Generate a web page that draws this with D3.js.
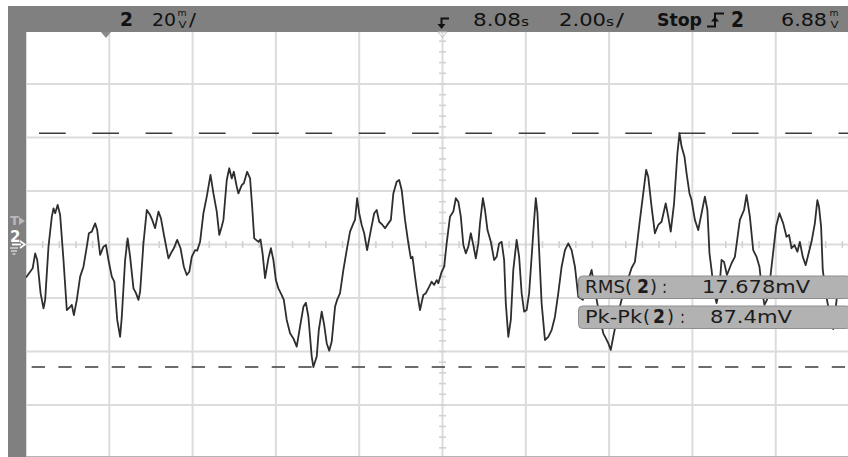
<!DOCTYPE html>
<html>
<head>
<meta charset="utf-8">
<script src="https://cdn.jsdelivr.net/npm/d3@7"></script>
<style>
  body { margin: 0; background: #fff; }
  svg { display: block; }
</style>
</head>
<body>
<svg id="scope" width="848" height="457"></svg>
<script>
// Channel 2 acquisition: time (s) and voltage (mV)
const timeS = [
  -1.92,-1.82,-1.76,-1.70,-1.65,-1.57,-1.50,-1.46,-1.38,-1.30,-1.26,-1.22,-1.16,-1.10,-1.02,-0.94,-0.86,-0.82,-0.77,-0.70,
  -0.62,-0.54,-0.46,-0.41,-0.34,-0.26,-0.21,-0.14,-0.06,0.00,0.06,0.14,0.20,0.27,0.34,0.38,0.46,0.52,0.58,0.66,
  0.72,0.78,0.82,0.90,0.98,1.06,1.11,1.18,1.26,1.32,1.40,1.50,1.58,1.63,1.71,1.79,1.87,1.94,2.00,2.06,
  2.14,2.19,2.26,2.34,2.42,2.51,2.58,2.66,2.72,2.78,2.82,2.90,2.96,3.02,3.07,3.14,3.18,3.26,3.31,3.39,
  3.46,3.51,3.56,3.66,3.71,3.76,3.82,3.90,3.96,4.02,4.08,4.14,4.22,4.27,4.34,4.42,4.50,4.58,4.66,4.74,
  4.80,4.86,4.94,4.98,5.06,5.11,5.18,5.24,5.30,5.36,5.42,5.50,5.55,5.62,5.70,5.78,5.86,5.94,5.98,6.03,
  6.08,6.14,6.20,6.27,6.36,6.44,6.50,6.56,6.64,6.70,6.78,6.84,6.90,6.98,7.04,7.10,7.18,7.26,7.32,7.36,
  7.42,7.47,7.54,7.62,7.68,7.74,7.82,7.88,7.94,7.98,8.06,8.12,8.18,8.26,8.34,8.40,8.46,8.52,8.58,8.64,
  8.70,8.76,8.82,8.88,8.94,8.98,9.05,9.10,9.16,9.24,9.32,9.38,9.44,9.50,9.56,9.60,9.66,9.72,9.78,9.86,
  9.92,9.98,10.04,10.10,10.16,10.22,10.28,10.32,10.36,10.40,10.46,10.54,10.62,10.70,10.78,10.86,10.94,11.02,11.10,11.18,
  11.26,11.34,11.45,11.57,11.66,11.74,11.86,11.94,12.00,12.06,12.12,12.18,12.27,12.39,12.51,12.62,12.70,12.82,12.89,12.97,
  13.02,13.10,13.18,13.26,13.34,13.44,13.50,13.56,13.64,13.72,13.77,13.82,13.89,13.94,14.01,14.06,14.14,14.22,14.30,14.38,
  14.44,14.49,14.54,14.60,14.66,14.72,14.78,14.84,14.91,15.02,15.10,15.22,15.32,15.38,15.46,15.54,15.62,15.69,15.75,15.81,
  15.87,15.93,15.98,16.09,16.17,16.26,16.34,16.40,16.46,16.53,16.60,16.66,16.73,16.80,16.86,16.94,17.02,17.08,17.12,17.17,
  17.21,17.29,17.38,17.46,17.50,17.55
];
const voltsMV = [
  -12.3,-10.2,-8.9,-3.3,-5.8,-18.2,-23.9,-20.7,-0.8,10.4,13.5,11.7,14.8,11.0,-5.8,-24.5,-23.3,-22.6,-26.4,-20.7,
  -12.0,-8.3,-0.8,4.2,4.8,7.9,5.4,-3.9,-0.8,-0.2,-5.8,-12.0,-13.9,-28.2,-34.5,-27.0,-5.8,2.3,-4.6,-16.4,
  -18.2,-20.7,-17.6,0.4,12.9,11.0,9.2,6.1,12.3,9.8,2.9,-5.2,-2.7,-1.4,1.7,-1.4,-8.3,-11.4,-10.2,-4.6,
  -2.1,-2.3,1.0,11.7,17.9,26.0,19.1,12.3,3.6,6.7,9.2,24.1,28.5,24.7,27.2,21.6,19.1,22.2,22.9,27.2,
  24.7,14.1,2.3,1.0,1.9,-3.3,-12.6,-5.2,-1.4,-5.8,-13.3,-16.4,-18.9,-20.7,-28.2,-33.2,-35.1,-38.2,-30.7,-23.3,
  -21.8,-27.0,-41.9,-45.8,-41.9,-32.0,-25.1,-30.1,-36.9,-39.7,-36.3,-23.3,-20.7,-18.2,-9.5,-2.1,4.8,7.9,9.2,17.3,
  11.7,7.3,4.2,-2.1,5.4,11.7,12.9,8.5,7.3,6.1,7.9,9.2,19.1,23.5,24.1,20.4,9.2,0.4,-5.2,-4.6,
  -12.0,-17.6,-24.5,-18.9,-18.2,-16.4,-13.9,-15.1,-13.3,-14.5,-10.2,-8.3,0.4,10.4,12.3,17.3,16.0,10.4,-0.2,-3.3,
  -0.8,4.2,-0.2,-5.2,0.4,7.9,17.3,12.9,5.4,1.0,-5.8,-4.6,0.4,1.0,-5.8,-22.0,-34.5,-28.2,-9.5,1.7,
  -4.6,-18.2,-25.1,-24.5,-18.2,-4.6,9.2,17.3,11.7,-2.1,-22.0,-35.7,-34.5,-32.0,-27.0,-18.2,-8.3,-2.1,0.4,-2.1,
  -8.3,-19.5,-20.7,-14.0,-9.5,-17.0,-27.5,-33.2,-35.0,-36.9,-39.4,-34.5,-27.5,-20.0,-14.0,-8.8,-6.5,9.2,17.9,27.9,
  25.3,14.1,4.2,7.3,8.5,15.4,10.4,4.8,15.4,34.1,41.6,36.6,32.8,26.6,19.1,16.6,9.2,5.4,11.7,17.9,
  12.9,-3.3,-9.5,-17.8,-21.9,-17.8,-5.8,-6.5,-11.4,-7.0,-4.6,9.2,12.9,18.5,10.4,-2.1,-4.6,-8.3,-17.0,-22.6,
  -20.7,-15.1,-8.3,6.7,11.7,7.9,2.9,3.6,-1.4,-0.2,-2.7,1.0,-4.6,-7.7,-3.9,1.0,7.9,16.6,14.1,6.7,
  -9.5,-18.9,-26.4,-31.6,-27.5,-19.3
];

// Front-panel settings shown in the status line
const channelId = "2";
const voltsPerDiv = 20;        // mV / div
const secPerDiv = 2.0;         // s / div
const delayS = 8.08;           // time at screen centre
const runState = "Stop";
const triggerLevelMV = 6.88;

// Automatic measurements
const measureNames = ["RMS", "Pk-Pk"];
const measureValues = ["17.678mV", "87.4mV"];

// Screen geometry: 10 x 8 divisions
const plotLeft = 26, divW = 83.3, plotTop = 30.5, divH = 53.5;
const xDom = [delayS - 5 * secPerDiv, delayS + 5 * secPerDiv];
const yDom = [-4 * voltsPerDiv, 4 * voltsPerDiv];

const x = d3.scaleLinear().domain(xDom).range([plotLeft, plotLeft + 10 * divW]);
const y = d3.scaleLinear().domain(yDom).range([plotTop + 8 * divH, plotTop]);

const svg = d3.select("#scope");
const W = 848, H = 457;
const FONT = "DejaVu Sans, Liberation Sans, sans-serif";

svg.append("rect").attr("width", W).attr("height", H).attr("fill", "#fff");

svg.append("defs").append("clipPath").attr("id", "plotClip")
  .append("rect").attr("x", plotLeft).attr("y", 32).attr("width", W - plotLeft).attr("height", H - 32);

const plot = svg.append("g").attr("clip-path", "url(#plotClip)");

// Graticule
const xGrid = d3.range(0, 11).map(i => xDom[0] + i * secPerDiv);
const yGrid = d3.range(0, 9).map(i => yDom[0] + i * voltsPerDiv);
plot.append("g").selectAll("line").data(xGrid).join("line")
  .attr("x1", d => x(d)).attr("x2", d => x(d)).attr("y1", 30).attr("y2", H)
  .attr("stroke", "#dcdcdc").attr("stroke-width", 2);
plot.append("g").selectAll("line").data(yGrid).join("line")
  .attr("x1", plotLeft).attr("x2", W).attr("y1", d => y(d)).attr("y2", d => y(d))
  .attr("stroke", "#dcdcdc").attr("stroke-width", 2);

// Minor ticks along the centre axes (5 per division)
const xMinor = d3.range(0, 51).map(i => xDom[0] + i * secPerDiv / 5);
const yMinor = d3.range(0, 41).map(i => yDom[0] + i * voltsPerDiv / 5);
plot.append("g").selectAll("line").data(xMinor).join("line")
  .attr("x1", d => x(d)).attr("x2", d => x(d)).attr("y1", y(0) - 3.5).attr("y2", y(0) + 3.5)
  .attr("stroke", "#d2d2d2").attr("stroke-width", 1.6);
plot.append("g").selectAll("line").data(yMinor).join("line")
  .attr("x1", x(delayS) - 3.5).attr("x2", x(delayS) + 3.5).attr("y1", d => y(d)).attr("y2", d => y(d))
  .attr("stroke", "#d2d2d2").attr("stroke-width", 1.6);

// Max / min cursors
const vMax = d3.max(voltsMV), vMin = d3.min(voltsMV);
plot.append("line")
  .attr("x1", plotLeft).attr("x2", W).attr("y1", y(vMax)).attr("y2", y(vMax))
  .attr("stroke", "#3c3c3c").attr("stroke-width", 1.5)
  .attr("stroke-dasharray", "26.7,26.6").attr("stroke-dashoffset", 40.3);
plot.append("line")
  .attr("x1", plotLeft).attr("x2", W).attr("y1", y(vMin)).attr("y2", y(vMin))
  .attr("stroke", "#3c3c3c").attr("stroke-width", 1.5)
  .attr("stroke-dasharray", "13.3,13.37").attr("stroke-dashoffset", 21);

// Waveform
const pts = timeS.map((t, i) => [t, voltsMV[i]]);
plot.append("path")
  .datum(pts)
  .attr("d", d3.line().x(d => x(d[0])).y(d => y(d[1])))
  .attr("fill", "none")
  .attr("stroke", "#2e2e2e")
  .attr("stroke-width", 1.8)
  .attr("stroke-linejoin", "round");

// Measurement readouts
const boxTop = [276, 306];
const boxLayout = [
  { name: [585, 40], open: 625, two: 637, close: 650, colon: 662, val: [702, 108] },
  { name: [585, 57], open: 643, two: 653, close: 667, colon: 680, val: [710, 82] }
];
measureNames.forEach((nm, i) => {
  const g = svg.append("g");
  const t = boxTop[i], L = boxLayout[i], base = t + 16.5;
  g.append("rect").attr("x", 578.5).attr("y", t).attr("width", 272).attr("height", 22.5)
    .attr("rx", 4).attr("fill", "#b2b2b2").attr("stroke", "#8e8e8e").attr("stroke-width", 1);
  const tx = (s, xx, w, opts = {}) => {
    const e = g.append("text").attr("x", xx).attr("y", base).text(s)
      .attr("font-family", FONT).attr("font-size", opts.size || 17)
      .attr("font-weight", opts.bold ? "bold" : "normal").attr("fill", "#1c1c1c");
    if (w) e.attr("textLength", w).attr("lengthAdjust", "spacingAndGlyphs");
  };
  tx(nm, L.name[0], L.name[1]);
  tx("(", L.open, 7);
  tx(channelId, L.two, 12, { bold: true, size: 20 });
  tx(")", L.close, 7);
  tx(":", L.colon, 5);
  tx(measureValues[i], L.val[0], L.val[1]);
});

// Status line and side bar
svg.append("rect").attr("x", 8).attr("y", 6).attr("width", W - 8).attr("height", 26).attr("fill", "#808080");
svg.append("rect").attr("x", 8).attr("y", 6).attr("width", 18).attr("height", H - 6).attr("fill", "#808080");
svg.append("line").attr("x1", plotLeft).attr("x2", W).attr("y1", 456.5).attr("y2", 456.5)
  .attr("stroke", "#b4b4b4").attr("stroke-width", 1);

const head = svg.append("g").attr("font-family", FONT).attr("fill", "#111");
const hText = (s, xx, w, opts = {}) => {
  const e = head.append("text").attr("x", xx).attr("y", opts.y || 26).text(s)
    .attr("font-size", opts.size || 17).attr("font-weight", opts.bold ? "bold" : "normal");
  if (w) e.attr("textLength", w).attr("lengthAdjust", "spacingAndGlyphs");
  return e;
};
// "mV" written as a small stacked unit
const unitMV = xx => {
  hText("m", xx, 9, { size: 8, y: 15.5 });
  hText("V", xx + 1, 8, { size: 9.5, y: 27.5 });
};

hText(channelId, 120, 13, { bold: true, size: 19 });
hText(String(voltsPerDiv), 152, 24);
unitMV(177.5);
hText("/", 189, 7);

// trigger-point glyph above the centre line
head.append("path").attr("d", "M449,18.5 H441.5 V26").attr("fill", "none").attr("stroke", "#111").attr("stroke-width", 2);
head.append("path").attr("d", "M437.5,24 L441.5,29 L445.5,24 Z").attr("fill", "#111");

hText(delayS.toFixed(2), 473, 48);
hText("s", 521, 8, { size: 12 });
hText(secPerDiv.toFixed(2), 559, 47);
hText("s", 606, 8, { size: 12 });
hText("/", 616, 8);
hText(runState, 657, 45, { bold: true });

// trigger slope glyph
head.append("path").attr("d", "M707,26.5 H715 V13.5 H724").attr("fill", "none").attr("stroke", "#111").attr("stroke-width", 2);
head.append("path").attr("d", "M711,21.5 L715,16.5 L719,21.5 Z").attr("fill", "#111");
hText(channelId, 731, 13, { bold: true, size: 21, y: 27 });
hText(triggerLevelMV.toFixed(2), 781, 46);
unitMV(829.5);

// Time-zero and delay reference markers at top of graticule
svg.append("path")
  .attr("d", `M${x(0) - 5},32 L${x(0) + 5},32 L${x(0)},38 Z`).attr("fill", "#8a8a8a");
svg.append("path")
  .attr("d", `M${x(delayS) - 4.5},32 L${x(delayS) + 4.5},32 L${x(delayS)},37.5 Z`)
  .attr("fill", "none").attr("stroke", "#c4c4c4").attr("stroke-width", 1);

// Side-bar markers: trigger level and channel ground
const side = svg.append("g").attr("font-family", FONT);
const yT = y(triggerLevelMV);
side.append("text").attr("x", 10).attr("y", yT - 1).text("T")
  .attr("font-size", 13).attr("font-weight", "bold").attr("fill", "#b8b8b8");
side.append("path").attr("d", `M19,${yT - 9} L25,${yT - 5} L19,${yT - 1} Z`).attr("fill", "#b8b8b8");

const yG = y(0);
side.append("text").attr("x", 10).attr("y", yG - 3).text(channelId)
  .attr("font-size", 15).attr("font-weight", "bold").attr("fill", "#fff");
side.append("path").attr("d", `M12,${yG} H21`).attr("stroke", "#fff").attr("stroke-width", 1.8);
side.append("path").attr("d", `M20,${yG - 3.5} L25,${yG} L20,${yG + 3.5}`)
  .attr("fill", "none").attr("stroke", "#fff").attr("stroke-width", 1.6);
[[10, 18, 3.5], [11, 17, 6.5], [12.5, 15.5, 9.5]].forEach(([a, b, dy]) => {
  side.append("line").attr("x1", a).attr("x2", b).attr("y1", yG + dy).attr("y2", yG + dy)
    .attr("stroke", "#e6e6e6").attr("stroke-width", 1.2);
});
</script>
</body>
</html>
